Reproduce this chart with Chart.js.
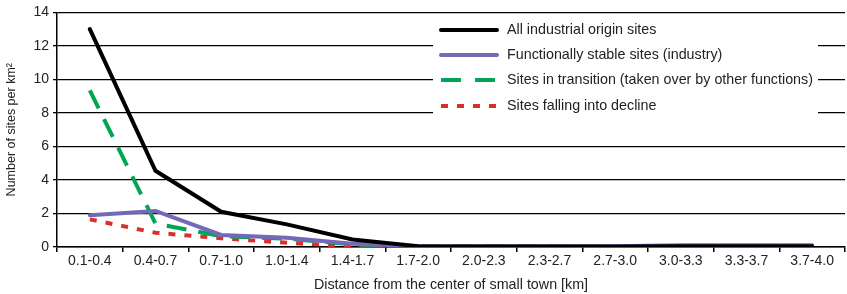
<!DOCTYPE html>
<html><head><meta charset="utf-8">
<script src="https://cdn.jsdelivr.net/npm/chart.js@4.4.1/dist/chart.umd.min.js"></script>
<style>html,body{margin:0;padding:0;background:#fff;}#wrap{width:847px;height:294px;position:relative;}canvas{display:block;}</style>
</head><body><div id="wrap"><canvas id="c" width="847" height="294"></canvas></div>
<script>
const categories = ["0.1-0.4","0.4-0.7","0.7-1.0","1.0-1.4","1.4-1.7","1.7-2.0","2.0-2.3","2.3-2.7","2.7-3.0","3.0-3.3","3.3-3.7","3.7-4.0"];
const allSites        = [13.0, 4.55, 2.1, 1.35, 0.45, 0.05, 0.03, 0.03, 0.03, 0.05, 0.05, 0.05];
const stableSites     = [1.9, 2.15, 0.72, 0.55, 0.2, 0.05, 0.05, 0.05, 0.05, 0.1, 0.1, 0.1];
const transitionSites = [9.35, 1.4, 0.65, 0.5, 0.15, 0.05, 0.05, 0.05, 0.0, 0.0, 0.0, 0.0];
const declineSites    = [1.65, 0.85, 0.52, 0.25, 0.05, 0.0, 0.0, 0.0, 0.0, 0.0, 0.0, 0.0];
const yTicks = [0,2,4,6,8,10,12,14];
const seriesLabels = ["All industrial origin sites","Functionally stable sites (industry)","Sites in transition (taken over by other functions)","Sites falling into decline"];

const FONT = "'Liberation Sans', Arial, sans-serif";

const legendBox = {
  id: 'legendBox',
  beforeDatasetsDraw(chart) {
    const ctx = chart.ctx;
    ctx.save();
    ctx.fillStyle = '#fff';
    ctx.fillRect(433, 16, 385, 100);
    const ys = [30, 55, 80, 106];
    chart.data.datasets.forEach((ds, i) => {
      const y = ys[i];
      ctx.beginPath();
      ctx.strokeStyle = ds.borderColor;
      ctx.lineWidth = ds.borderWidth;
      ctx.lineCap = ds.borderCapStyle || 'butt';
      ctx.setLineDash(ds.legendDash || []);
      ctx.moveTo(441, y); ctx.lineTo(497, y);
      ctx.stroke();
      ctx.setLineDash([]);
      ctx.fillStyle = '#222';
      ctx.font = '14.3px ' + FONT;
      ctx.textBaseline = 'middle';
      ctx.textAlign = 'left';
      ctx.fillText(ds.label, 507, y);
    });
    ctx.restore();
  }
};

new Chart(document.getElementById('c'), {
  type: 'line',
  data: {
    labels: categories,
    datasets: [
      {label: seriesLabels[0], data: allSites, borderColor: '#000000', borderWidth: 4, pointRadius: 0, tension: 0, borderCapStyle: 'round'},
      {label: seriesLabels[1], data: stableSites, borderColor: '#7468b8', borderWidth: 4, pointRadius: 0, tension: 0, borderCapStyle: 'round'},
      {label: seriesLabels[2], data: transitionSites, borderColor: '#00a651', borderWidth: 4, pointRadius: 0, tension: 0, borderDash: [20, 12], legendDash: [20, 14], borderCapStyle: 'butt'},
      {label: seriesLabels[3], data: declineSites, borderColor: '#d7312f', borderWidth: 4, pointRadius: 0, tension: 0, borderDash: [7, 9], legendDash: [7, 9], borderCapStyle: 'butt'}
    ]
  },
  options: {
    responsive: false,
    maintainAspectRatio: false,
    animation: false,
    devicePixelRatio: 1,
    layout: {padding: {left: 0, right: 2, top: 12, bottom: 0}},
    plugins: {legend: {display: false}, tooltip: {enabled: false}},
    scales: {
      x: {
        offset: true,
        grid: {display: true, drawOnChartArea: false, offset: true, color: '#000', lineWidth: 1.5, tickLength: 5, tickColor: '#000'},
        border: {display: true, color: '#000', width: 1.5},
        ticks: {color: '#222', font: {family: FONT, size: 14}, padding: 1, maxRotation: 0, autoSkip: false},
        title: {display: true, text: 'Distance from the center of small town [km]', color: '#222', font: {family: FONT, size: 14.3}, padding: {top: 7, bottom: 0}},
        afterFit(s) { s.height = 47; }
      },
      y: {
        min: 0, max: 14,
        afterBuildTicks(s) { s.ticks = yTicks.map(v => ({value: v})); },
        grid: {color: '#000', lineWidth: 1.3, tickLength: 4, tickColor: '#000'},
        border: {display: true, color: '#000', width: 1.5},
        ticks: {color: '#222', font: {family: FONT, size: 14}, padding: 4, autoSkip: false, stepSize: 2},
        title: {display: true, text: 'Number of sites per km²', color: '#222', font: {family: FONT, size: 12.5}, padding: {top: 4, bottom: 4}},
        afterFit(s) { s.width = 57; }
      }
    }
  },
  plugins: [legendBox]
});
</script></body></html>
